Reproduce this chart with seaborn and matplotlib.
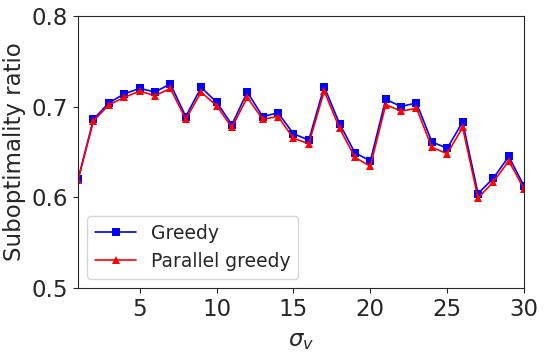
import numpy as np
import pandas as pd
import matplotlib
matplotlib.use("Agg")
import matplotlib.pyplot as plt
import seaborn as sns

sigma_v = list(range(1, 31))
greedy = [0.620, 0.686, 0.704, 0.714, 0.720, 0.716, 0.725, 0.689, 0.721, 0.705,
          0.680, 0.716, 0.689, 0.693, 0.670, 0.663, 0.722, 0.681, 0.649, 0.640,
          0.708, 0.700, 0.704, 0.661, 0.654, 0.683, 0.604, 0.621, 0.645, 0.612]
parallel = [0.619, 0.684, 0.702, 0.710, 0.717, 0.712, 0.720, 0.686, 0.716, 0.701,
            0.677, 0.710, 0.686, 0.689, 0.665, 0.659, 0.717, 0.676, 0.644, 0.634,
            0.702, 0.695, 0.698, 0.655, 0.648, 0.677, 0.599, 0.617, 0.640, 0.609]

sns.set_style("ticks")
plt.rcParams['font.family'] = ['DejaVu Sans']
plt.rcParams['mathtext.fontset'] = 'dejavusans'

df = pd.DataFrame({
    'sigma': sigma_v * 2,
    'ratio': greedy + parallel,
    'method': ['Greedy'] * 30 + ['Parallel greedy'] * 30,
})

fig, ax = plt.subplots(figsize=(5.46, 3.52), dpi=100)
sns.lineplot(data=df, x='sigma', y='ratio', hue='method', style='method',
             palette={'Greedy': 'blue', 'Parallel greedy': 'red'},
             markers={'Greedy': 's', 'Parallel greedy': '^'},
             dashes=False, markeredgewidth=0, markersize=5.5, linewidth=1.2, ax=ax)

ax.set_xlim(1, 30)
ax.set_ylim(0.5, 0.8)
ax.set_xticks([5, 10, 15, 20, 25, 30])
ax.set_yticks([0.5, 0.6, 0.7, 0.8])
ax.tick_params(labelsize=16.5)
ax.set_xlabel(r'$\sigma_v$', fontsize=16.5, labelpad=6)
ax.set_ylabel('Suboptimality ratio', fontsize=16.5, labelpad=4)
ax.legend(loc='lower left', fontsize=13.5, handlelength=2.2)

fig.subplots_adjust(left=0.143, right=0.960, top=0.955, bottom=0.182)
plt.savefig('out.png', dpi=100)
